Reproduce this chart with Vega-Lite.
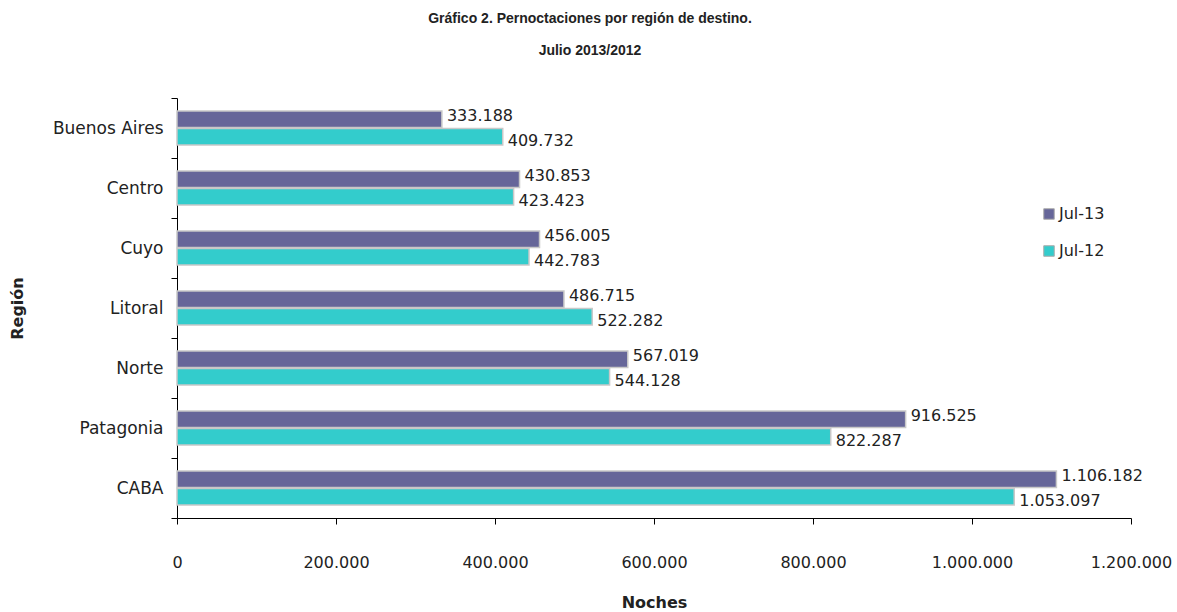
{
  "$schema": "https://vega.github.io/schema/vega-lite/v6.json",
  "autosize": "none",
  "width": 954,
  "height": 420,
  "padding": {"left": 177, "top": 98, "right": 46, "bottom": 94},
  "background": "white",
  "config": {
    "font": "DejaVu Sans",
    "view": {"stroke": null},
    "locale": {"number": {"decimal": ",", "thousands": ".", "grouping": [3], "currency": ["$", ""]}}
  },
  "title": {
    "text": ["Gráfico 2. Pernoctaciones por región de destino.", "Julio 2013/2012"],
    "font": "Liberation Sans",
    "fontSize": 14,
    "fontWeight": "bold",
    "color": "#222222",
    "lineHeight": 32,
    "anchor": "middle",
    "dx": -64,
    "offset": 31
  },
  "data": {
    "values": [
      {"region": "Buenos Aires", "serie": "Jul-13", "noches": 333188},
      {"region": "Buenos Aires", "serie": "Jul-12", "noches": 409732},
      {"region": "Centro", "serie": "Jul-13", "noches": 430853},
      {"region": "Centro", "serie": "Jul-12", "noches": 423423},
      {"region": "Cuyo", "serie": "Jul-13", "noches": 456005},
      {"region": "Cuyo", "serie": "Jul-12", "noches": 442783},
      {"region": "Litoral", "serie": "Jul-13", "noches": 486715},
      {"region": "Litoral", "serie": "Jul-12", "noches": 522282},
      {"region": "Norte", "serie": "Jul-13", "noches": 567019},
      {"region": "Norte", "serie": "Jul-12", "noches": 544128},
      {"region": "Patagonia", "serie": "Jul-13", "noches": 916525},
      {"region": "Patagonia", "serie": "Jul-12", "noches": 822287},
      {"region": "CABA", "serie": "Jul-13", "noches": 1106182},
      {"region": "CABA", "serie": "Jul-12", "noches": 1053097}
    ]
  },
  "encoding": {
    "y": {
      "field": "region",
      "type": "nominal",
      "sort": ["Buenos Aires", "Centro", "Cuyo", "Litoral", "Norte", "Patagonia", "CABA"],
      "scale": {"paddingInner": 0, "paddingOuter": 0},
      "axis": {
        "title": "Región",
        "titleFont": "DejaVu Sans",
        "titleFontSize": 16,
        "titleFontWeight": "bold",
        "titleColor": "#222222",
        "titleX": -155,
        "titleY": 210,
        "titleAngle": -90,
        "titleAlign": "center",
        "titleBaseline": "alphabetic",
        "labelFontSize": 17,
        "labelColor": "#222222",
        "labelPadding": 8,
        "tickBand": "extent",
        "tickColor": "#000000",
        "tickSize": 6,
        "domainColor": "#000000",
        "grid": false
      }
    },
    "x": {
      "field": "noches",
      "type": "quantitative",
      "scale": {"domain": [0, 1200000], "nice": false},
      "axis": {
        "title": "Noches",
        "titleFont": "DejaVu Sans",
        "titleFontSize": 16,
        "titleFontWeight": "bold",
        "titleColor": "#222222",
        "titleY": 89,
        "titleBaseline": "alphabetic",
        "format": ",d",
        "values": [0, 200000, 400000, 600000, 800000, 1000000, 1200000],
        "labelFontSize": 16,
        "labelColor": "#222222",
        "labelPadding": 30,
        "labelFlush": false,
        "tickColor": "#000000",
        "tickSize": 6,
        "domainColor": "#000000",
        "grid": false
      }
    },
    "yOffset": {
      "field": "serie",
      "type": "nominal",
      "sort": ["Jul-13", "Jul-12"],
      "scale": {"paddingInner": 0.05, "paddingOuter": 0.75}
    }
  },
  "layer": [
    {
      "mark": {"type": "bar", "stroke": "#c8c8c8", "strokeWidth": 1.5},
      "encoding": {
        "color": {
          "field": "serie",
          "type": "nominal",
          "sort": ["Jul-13", "Jul-12"],
          "scale": {"domain": ["Jul-13", "Jul-12"], "range": ["#666699", "#33CCCC"]},
          "legend": {
            "title": null,
            "orient": "none",
            "legendX": 864,
            "legendY": 108,
            "symbolType": "square",
            "symbolSize": 110,
            "symbolStrokeColor": "#aaaaaa",
            "symbolStrokeWidth": 1,
            "labelFontSize": 16,
            "labelColor": "#222222",
            "rowPadding": 21,
            "labelOffset": 2
          }
        }
      }
    },
    {
      "transform": [{"filter": "datum.serie === 'Jul-13'"}],
      "mark": {"type": "text", "align": "left", "baseline": "middle", "dx": 5, "dy": -3, "fontSize": 16, "color": "#222222"},
      "encoding": {"text": {"field": "noches", "type": "quantitative", "format": ",d"}}
    },
    {
      "transform": [{"filter": "datum.serie === 'Jul-12'"}],
      "mark": {"type": "text", "align": "left", "baseline": "middle", "dx": 5, "dy": 4, "fontSize": 16, "color": "#222222"},
      "encoding": {"text": {"field": "noches", "type": "quantitative", "format": ",d"}}
    }
  ]
}
